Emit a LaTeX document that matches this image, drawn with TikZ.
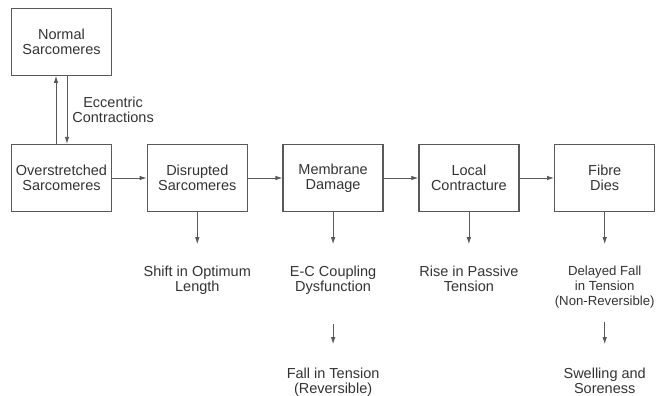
\documentclass[tikz,border=0pt]{standalone}
\usepackage{fontspec}
\setmainfont{Liberation Sans}
\usetikzlibrary{positioning, arrows.meta}
\definecolor{box-gray}{gray}{0.35}
\definecolor{txt-gray}{gray}{0.2}

\begin{document}
\begin{tikzpicture}[x=1pt, y=1pt, node distance=34.5pt,
	every node/.style={font=\fontsize{14.5}{15}\selectfont, text=txt-gray},
	box/.style={draw=box-gray, line width=1.3pt, minimum width=100pt, minimum height=67pt, align=center, inner sep=0pt},
	lbl/.style={align=center, inner sep=0pt},
	arr/.style={-{Latex[length=7pt, width=4.5pt]}, box-gray, line width=0.8pt}]
	\useasboundingbox (0,0) rectangle (656,-396);
	\node[box] (ostr) at (61.5,-178) {Overstretched\\Sarcomeres};
	\node[box, above=68pt of ostr] (norm) {Normal\\Sarcomeres};
	\node[box, right=of ostr] (disr) {Disrupted\\Sarcomeres};
	\node[box, right=of disr] (memb) {Membrane\\Damage};
	\node[box, right=of memb] (cont) {Local\\Contracture};
	\node[box, right=of cont] (dies) {Fibre\\Dies};
	\node[lbl, below=54pt of disr] (shift) {Shift in Optimum\\Length};
	\node[lbl, below=54pt of memb] (ecc) {E-C Coupling\\Dysfunction};
	\node[lbl, below=54pt of cont] (rise) {Rise in Passive\\Tension};
	\node[lbl, below=54pt of dies, font=\fontsize{13.2}{15}\selectfont] (delay) {Delayed Fall\\in Tension\\(Non-Reversible)};
	\node[lbl, below=155.5pt of memb] (fall) {Fall in Tension\\(Reversible)};
	\node[lbl, below=155.5pt of dies] (swell) {Swelling and\\Soreness};
	\draw[arr] ([xshift=-5.5pt]ostr.north) -- ([xshift=-5.5pt]norm.south);
	\draw[arr] ([xshift=5.5pt]norm.south) -- node[lbl, right=5pt] (eccl) {Eccentric\\Contractions} ([xshift=5.5pt]ostr.north);
	\draw[arr] (ostr) -- (disr);
	\draw[arr] (disr) -- (memb);
	\draw[arr] (memb) -- (cont);
	\draw[arr] (cont) -- (dies);
	\draw[arr, shorten >=22pt] (disr.south) -- (shift.north);
	\draw[arr, shorten >=22pt] (memb.south) -- (ecc.north);
	\draw[arr, shorten >=22pt] (cont.south) -- (rise.north);
	\draw[arr, shorten >=22pt] (dies.south) -- (delay.north);
	\draw[arr, shorten <=13.5pt, shorten >=23.5pt] (delay.south) -- (swell.north);
	\draw[arr, shorten <=28.5pt, shorten >=23.5pt] (ecc.south) -- (fall.north);
\end{tikzpicture}
\end{document}
